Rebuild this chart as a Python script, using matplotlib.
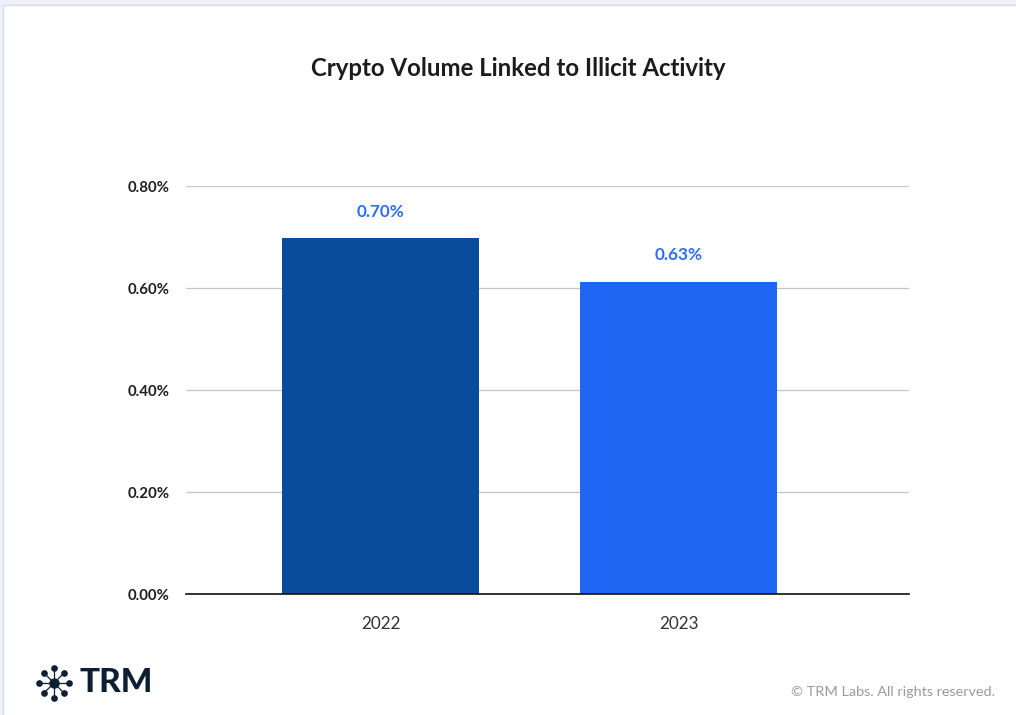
import matplotlib.pyplot as plt
from matplotlib.patches import Rectangle
from matplotlib.lines import Line2D
import numpy as np

plt.rcParams['font.family'] = ['Lato', 'DejaVu Sans']

years = ['2022', '2023']
share = [0.698, 0.612]          # bar heights as drawn (% of volume)
labels = ['0.70%', '0.63%']     # labels as printed
colors = ['#0a4c9c', '#1f66f4']
yticks = [0.0, 0.2, 0.4, 0.6, 0.8]

W, H = 1016, 715
fig = plt.figure(figsize=(W / 100, H / 100), dpi=100)
fig.patch.set_facecolor('#eef1fb')
# white card behind everything
fig.patches.append(Rectangle((3 / W, -0.05), 1, 1.05 - 5 / H, transform=fig.transFigure,
                             facecolor='white', edgecolor='#d9dce4', lw=1, zorder=-5))

ax = fig.add_axes([186 / W, 1 - 594 / H, (909 - 186) / W, (594 - 186) / H])
ax.set_facecolor('none')
x = np.arange(len(years))
ax.bar(x, share, width=0.66, color=colors, zorder=3)
for xi, v, lab in zip(x, share, labels):
    ax.annotate(lab, (xi, v), xytext=(0, 19), textcoords='offset points',
                ha='center', va='center', fontsize=12.3, fontweight='bold',
                color='#2d6ef2')

ax.set_xlim(-0.653, 1.773)
ax.set_ylim(0, 0.8)
ax.set_yticks(yticks)
ax.set_yticklabels([f'{t:.2f}%' for t in yticks])
ax.set_xticks(x)
ax.set_xticklabels(years)
ax.grid(axis='y', color='#c6c6c6', lw=0.9, zorder=0)
for s in ['top', 'right', 'left']:
    ax.spines[s].set_visible(False)
ax.spines['bottom'].set_color('#111111')
ax.spines['bottom'].set_linewidth(1.2)
ax.spines['bottom'].set_zorder(4)
ax.tick_params(axis='y', length=0, pad=12, labelsize=10.8, labelcolor='#1e1e1e')
for t in ax.get_yticklabels():
    t.set_fontweight('bold')
ax.tick_params(axis='x', length=0, pad=16, labelsize=12.3, labelcolor='#333333')

fig.text(518 / W, 1 - 69 / H, 'Crypto Volume Linked to Illicit Activity',
         ha='center', va='center', fontsize=17.3, fontweight='bold', color='#1c1c1c')

# TRM logo
cx, cy = 54 / W, 1 - 683 / H
navy = '#0d1f33'
for k in range(8):
    a = k * np.pi / 4
    r = 15 if k % 2 == 0 else 14
    ex = cx + r * np.cos(a) / W
    ey = cy + r * np.sin(a) / H
    fig.add_artist(Line2D([cx, ex], [cy, ey], color=navy, lw=0.9, transform=fig.transFigure))
    fig.add_artist(Line2D([ex], [ey], marker='o', ms=3.8, color=navy, transform=fig.transFigure))
fig.add_artist(Line2D([cx], [cy], marker='o', ms=6.5, color=navy, transform=fig.transFigure))
fig.text(79 / W, cy, 'TRM', ha='left', va='center', fontsize=24, fontweight='black',
         color=navy)

fig.text(995 / W, 1 - 692 / H, '\u00a9 TRM Labs. All rights reserved.', ha='right',
         va='center', fontsize=10.4, color='#9a9a9a')

fig.savefig('out.png', dpi=100)
